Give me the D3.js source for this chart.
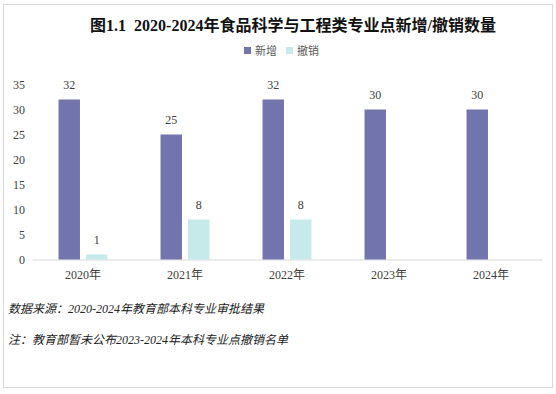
<!DOCTYPE html>
<html>
<head>
<meta charset="utf-8">
<script src="https://cdn.jsdelivr.net/npm/d3@7"></script>
<style>
  body { margin: 0; background: #fff; }
  svg { display: block; font-family: "Liberation Serif", "Noto Sans CJK SC", serif; }
</style>
</head>
<body>
<svg id="chart"></svg>
<script>
var years = ['2020年', '2021年', '2022年', '2023年', '2024年'];
var seriesNames = ['新增', '撤销'];
var added = [32, 25, 32, 30, 30];
var removed = [1, 8, 8, null, null];
var yTicks = [0, 5, 10, 15, 20, 25, 30, 35];
var colors = ['#7275ad', '#c6eae9'];

var W = 556, H = 394;
var svg = d3.select('#chart').attr('width', W).attr('height', H);

svg.append('rect')
    .attr('x', 3.5).attr('y', 4.5)
    .attr('width', 549).attr('height', 383)
    .attr('fill', '#fff').attr('stroke', '#d9d9d9');

// title
svg.append('text')
    .attr('x', 293).attr('y', 31)
    .attr('text-anchor', 'middle')
    .attr('font-size', 16)
    .attr('font-weight', 'bold')
    .attr('fill', '#111')
    .style('white-space', 'pre')
    .text('图1.1  2020-2024年食品科学与工程类专业点新增/撤销数量');

// legend
var legend = svg.append('g').attr('transform', 'translate(244,51)');
var lx = 0;
seriesNames.forEach(function (s, i) {
    legend.append('rect')
        .attr('x', lx).attr('y', -4)
        .attr('width', 7).attr('height', 7)
        .attr('fill', colors[i]);
    legend.append('text')
        .attr('x', lx + 11).attr('y', 4)
        .attr('font-size', 11)
        .attr('fill', '#595959')
        .attr('font-family', 'Noto Sans CJK SC')
        .text(s);
    lx += 42;
});

var x0 = d3.scaleBand().domain(years).range([32, 542]).paddingInner(0.52).paddingOuter(0.26);
var x1 = d3.scaleBand().domain(seriesNames).range([0, x0.bandwidth()]).paddingInner(0.22);
var y = d3.scaleLinear().domain([0, 35]).range([259.5, 84.5]);

// y axis labels
svg.append('g')
    .attr('transform', 'translate(32,0)')
    .call(d3.axisLeft(y).tickValues(yTicks).tickSize(0).tickPadding(7))
    .call(function (g) { g.select('.domain').remove(); })
    .selectAll('text')
    .attr('font-size', 12)
    .attr('font-family', 'Liberation Serif')
    .attr('fill', '#404040');

// x axis
var xAxis = svg.append('g')
    .attr('transform', 'translate(0,' + y(0) + ')')
    .call(d3.axisBottom(x0).tickSize(0).tickPadding(11));
xAxis.select('.domain').attr('stroke', '#d9d9d9');
xAxis.selectAll('text')
    .attr('font-size', 12)
    .attr('font-family', 'Liberation Serif, Noto Sans CJK SC')
    .attr('fill', '#404040');

var rows = years.map(function (yr, i) {
    return { year: yr, values: [added[i], removed[i]] };
});

var groups = svg.append('g').selectAll('g')
    .data(rows)
    .join('g')
    .attr('transform', function (d) { return 'translate(' + x0(d.year) + ',0)'; });

groups.selectAll('rect')
    .data(function (d) {
        return d.values.map(function (v, i) { return { key: seriesNames[i], value: v, i: i }; })
            .filter(function (e) { return e.value != null; });
    })
    .join('rect')
    .attr('x', function (d) { return x1(d.key); })
    .attr('y', function (d) { return y(d.value); })
    .attr('width', x1.bandwidth())
    .attr('height', function (d) { return y(0) - y(d.value); })
    .attr('fill', function (d) { return colors[d.i]; });

groups.selectAll('text.lbl')
    .data(function (d) {
        return d.values.map(function (v, i) { return { key: seriesNames[i], value: v }; })
            .filter(function (e) { return e.value != null; });
    })
    .join('text')
    .attr('class', 'lbl')
    .attr('x', function (d) { return x1(d.key) + x1.bandwidth() / 2; })
    .attr('y', function (d) { return y(d.value) - 11; })
    .attr('text-anchor', 'middle')
    .attr('font-size', 12)
    .attr('fill', '#404040')
    .text(function (d) { return d.value; });

// notes
var notes = ['数据来源：2020-2024年教育部本科专业审批结果', '注：教育部暂未公布2023-2024年本科专业点撤销名单'];
svg.selectAll('text.note')
    .data(notes)
    .join('text')
    .attr('class', 'note')
    .attr('x', 8)
    .attr('y', function (d, i) { return 313 + i * 31; })
    .attr('font-size', 12)
    .attr('font-style', 'italic')
    .attr('fill', '#222')
    .text(function (d) { return d; });
</script>
</body>
</html>
